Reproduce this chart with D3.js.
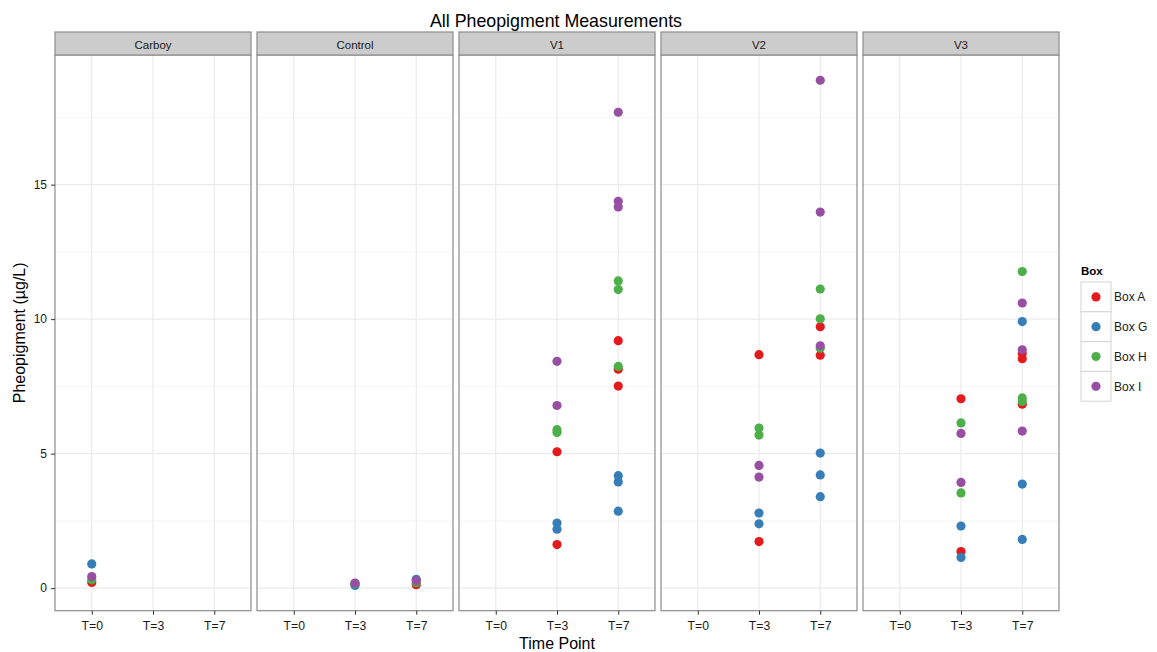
<!DOCTYPE html>
<html>
<head>
<meta charset="utf-8">
<script src="https://cdn.jsdelivr.net/npm/d3@7"></script>
<style>
  html, body { margin: 0; padding: 0; background: #fff; }
  svg { display: block; font-family: "Liberation Sans", Arial, sans-serif; }
</style>
</head>
<body>
<svg id="chart" width="1157" height="652"></svg>
<script>
// Facets, x categories and legend entries
const panels = ["Carboy", "Control", "V1", "V2", "V3"];
const timePoints = ["T=0", "T=3", "T=7"];
const boxes = ["Box A", "Box G", "Box H", "Box I"];
const boxColors = ["#E41A1C", "#377EB8", "#4DAF4A", "#984EA3"];
const yTicks = [0, 5, 10, 15];

// Measurements per box: [panel, time point, pheopigment µg/L]
const boxA = [
  ["Carboy", "T=0", 0.21],
  ["Control", "T=3", 0.15], ["Control", "T=7", 0.13],
  ["V1", "T=3", 5.07], ["V1", "T=3", 1.62],
  ["V1", "T=7", 9.20], ["V1", "T=7", 8.14], ["V1", "T=7", 7.51],
  ["V2", "T=3", 8.68], ["V2", "T=3", 1.73],
  ["V2", "T=7", 9.72], ["V2", "T=7", 8.66],
  ["V3", "T=3", 7.04], ["V3", "T=3", 1.36],
  ["V3", "T=7", 8.72], ["V3", "T=7", 8.53], ["V3", "T=7", 6.84]
];
const boxG = [
  ["Carboy", "T=0", 0.90],
  ["Control", "T=3", 0.10], ["Control", "T=7", 0.33],
  ["V1", "T=3", 2.42], ["V1", "T=3", 2.19],
  ["V1", "T=7", 4.18], ["V1", "T=7", 3.95], ["V1", "T=7", 2.86],
  ["V2", "T=3", 2.79], ["V2", "T=3", 2.39],
  ["V2", "T=7", 5.02], ["V2", "T=7", 4.21], ["V2", "T=7", 3.40],
  ["V3", "T=3", 2.31], ["V3", "T=3", 1.14],
  ["V3", "T=7", 9.91], ["V3", "T=7", 3.87], ["V3", "T=7", 1.81]
];
const boxH = [
  ["Carboy", "T=0", 0.31],
  ["Control", "T=3", 0.17], ["Control", "T=7", 0.20],
  ["V1", "T=3", 5.89], ["V1", "T=3", 5.79],
  ["V1", "T=7", 11.42], ["V1", "T=7", 11.10], ["V1", "T=7", 8.24],
  ["V2", "T=3", 5.95], ["V2", "T=3", 5.69],
  ["V2", "T=7", 11.12], ["V2", "T=7", 10.01], ["V2", "T=7", 8.92],
  ["V3", "T=3", 6.14], ["V3", "T=3", 3.54],
  ["V3", "T=7", 11.77], ["V3", "T=7", 7.07], ["V3", "T=7", 6.94]
];
const boxI = [
  ["Carboy", "T=0", 0.43],
  ["Control", "T=3", 0.19], ["Control", "T=7", 0.27],
  ["V1", "T=3", 8.43], ["V1", "T=3", 6.79],
  ["V1", "T=7", 17.69], ["V1", "T=7", 14.38], ["V1", "T=7", 14.17],
  ["V2", "T=3", 4.56], ["V2", "T=3", 4.13],
  ["V2", "T=7", 18.88], ["V2", "T=7", 13.98], ["V2", "T=7", 9.01],
  ["V3", "T=3", 5.75], ["V3", "T=3", 3.93],
  ["V3", "T=7", 10.60], ["V3", "T=7", 8.86], ["V3", "T=7", 5.84]
];

const seriesByBox = [boxA, boxG, boxH, boxI];
const points = [];
seriesByBox.forEach((rows, i) => rows.forEach(([panel, time, value]) =>
  points.push({ box: boxes[i], panel, time, value })));

// Layout
const svg = d3.select("#chart");
const plotLeft = 55, panelW = 196, panelGap = 6;
const stripTop = 32, plotTop = 55, plotBottom = 610.7;

const colorScale = d3.scaleOrdinal().domain(boxes).range(boxColors);

const panelX = d3.scaleBand()
  .domain(panels)
  .range([plotLeft, plotLeft + panels.length * panelW + (panels.length - 1) * panelGap])
  .paddingInner(panelGap / (panelW + panelGap));

const xInner = d3.scalePoint().domain(timePoints).range([0, panelW]).padding(0.6);

const [vMin, vMax] = d3.extent(points, d => d.value);
const pad = (vMax - vMin) * 0.05;
const y = d3.scaleLinear().domain([vMin - pad, vMax + pad]).range([plotBottom, plotTop]);
const yMinor = yTicks.map(t => t + 2.5).filter(t => t <= y.domain()[1]);

// Title
svg.append("text")
  .attr("x", 556).attr("y", 26.7)
  .attr("text-anchor", "middle")
  .attr("font-size", 17.8).attr("fill", "#000")
  .text("All Pheopigment Measurements");

panels.forEach(panel => {
  const px = panelX(panel);
  const g = svg.append("g").attr("transform", `translate(${px},0)`);

  g.append("rect")
    .attr("x", 0).attr("y", plotTop).attr("width", panelW).attr("height", plotBottom - plotTop)
    .attr("fill", "#fff");

  // minor grid
  g.selectAll(".minor").data(yMinor).join("line")
    .attr("x1", 0).attr("x2", panelW)
    .attr("y1", d => y(d)).attr("y2", d => y(d))
    .attr("stroke", "#F5F5F5").attr("stroke-width", 1);

  // major grid
  g.selectAll(".majorY").data(yTicks).join("line")
    .attr("x1", 0).attr("x2", panelW)
    .attr("y1", d => y(d)).attr("y2", d => y(d))
    .attr("stroke", "#EBEBEB").attr("stroke-width", 1.2);
  g.selectAll(".majorX").data(timePoints).join("line")
    .attr("x1", d => xInner(d)).attr("x2", d => xInner(d))
    .attr("y1", plotTop).attr("y2", plotBottom)
    .attr("stroke", "#EBEBEB").attr("stroke-width", 1.2);

  // points
  g.selectAll("circle").data(points.filter(p => p.panel === panel)).join("circle")
    .attr("cx", d => xInner(d.time))
    .attr("cy", d => y(d.value))
    .attr("r", 4.6)
    .attr("fill", d => colorScale(d.box));

  // panel border
  g.append("rect")
    .attr("x", 0).attr("y", plotTop).attr("width", panelW).attr("height", plotBottom - plotTop)
    .attr("fill", "none").attr("stroke", "#8C8C8C").attr("stroke-width", 1.2);

  // strip
  g.append("rect")
    .attr("x", 0).attr("y", stripTop).attr("width", panelW).attr("height", plotTop - stripTop)
    .attr("fill", "#CCCCCC").attr("stroke", "#8C8C8C").attr("stroke-width", 1.2);
  g.append("text")
    .attr("x", panelW / 2).attr("y", 49)
    .attr("text-anchor", "middle").attr("font-size", 11.5).attr("fill", "#1A1A1A")
    .text(panel);

  // x axis
  const xAxis = d3.axisBottom(xInner).tickSize(4).tickPadding(7);
  const ax = g.append("g").attr("transform", `translate(0,${plotBottom})`).call(xAxis);
  ax.select(".domain").remove();
  ax.selectAll(".tick line").attr("stroke", "#333").attr("stroke-width", 1);
  ax.selectAll(".tick text").attr("font-size", 12.2).attr("fill", "#1A1A1A")
    .attr("font-family", "Liberation Sans, Arial, sans-serif");
});

// y axis on first panel
const yAxis = d3.axisLeft(y).tickValues(yTicks).tickSize(4).tickPadding(4);
const ay = svg.append("g").attr("transform", `translate(${plotLeft},0)`).call(yAxis);
ay.select(".domain").remove();
ay.selectAll(".tick line").attr("stroke", "#333").attr("stroke-width", 1);
ay.selectAll(".tick text").attr("font-size", 12).attr("fill", "#1A1A1A")
  .attr("font-family", "Liberation Sans, Arial, sans-serif");

// axis titles
svg.append("text")
  .attr("x", 557).attr("y", 649.3)
  .attr("text-anchor", "middle").attr("font-size", 16).attr("fill", "#000")
  .text("Time Point");
svg.append("text")
  .attr("transform", `translate(25,${(plotTop + plotBottom) / 2}) rotate(-90)`)
  .attr("text-anchor", "middle").attr("font-size", 16).attr("fill", "#000")
  .text("Pheopigment (µg/L)");

// legend
const lg = svg.append("g").attr("transform", "translate(1081,0)");
lg.append("text")
  .attr("x", 0).attr("y", 275)
  .attr("font-size", 11.5).attr("font-weight", "bold").attr("fill", "#000")
  .text("Box");
const keyTop = 282, keySize = 29.8;
boxes.forEach((b, i) => {
  const ky = keyTop + i * keySize;
  lg.append("rect")
    .attr("x", 0).attr("y", ky).attr("width", 30).attr("height", keySize)
    .attr("fill", "#fff").attr("stroke", "#D3D3D3").attr("stroke-width", 1);
  lg.append("circle")
    .attr("cx", 15).attr("cy", ky + keySize / 2).attr("r", 4.6)
    .attr("fill", colorScale(b));
  lg.append("text")
    .attr("x", 33).attr("y", ky + keySize / 2 + 4.5)
    .attr("font-size", 12).attr("fill", "#1A1A1A")
    .text(b);
});
</script>
</body>
</html>
